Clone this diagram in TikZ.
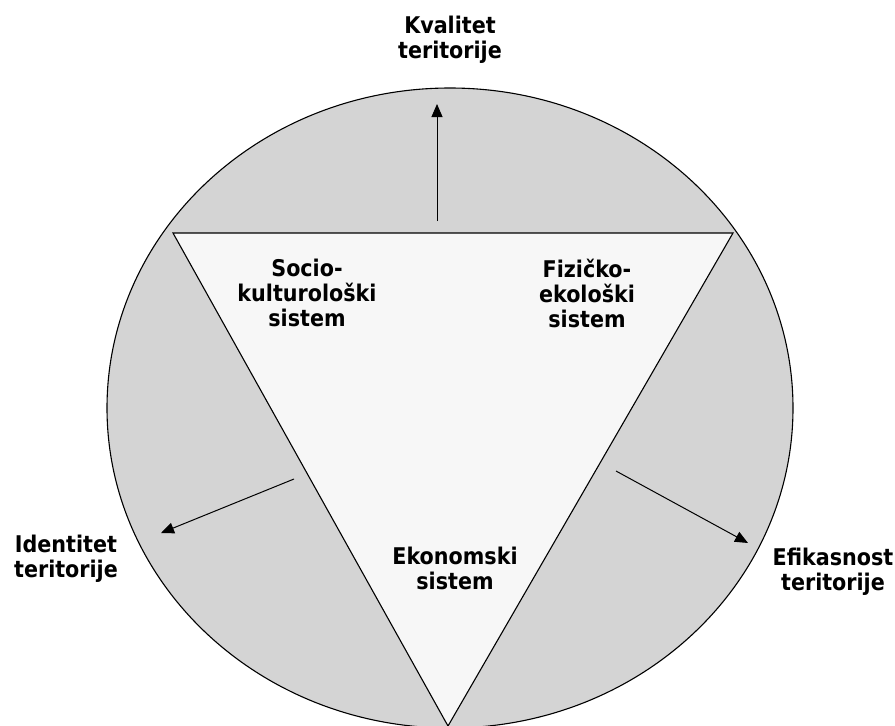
\documentclass[tikz,border=0pt]{standalone}
\usepackage{fontspec}
\setmainfont{DejaVu Sans Condensed}
\usetikzlibrary{arrows.meta}
\definecolor{ringgray}{gray}{0.83}
\definecolor{coregray}{gray}{0.97}
\begin{document}
\begin{tikzpicture}[x=1pt,y=-1pt,
                    arrow/.style = {line width=1pt,-{Triangle[length=13pt,width=11pt]}},
                    txt/.style = {font=\bfseries\fontsize{23}{25}\selectfont, align=center, inner sep=0pt}]
                    \useasboundingbox (0,0) rectangle (895,726);

                    \filldraw[fill=ringgray, line width=1.1pt] (450,408) ellipse [x radius=343, y radius=320];

                    \coordinate (tl) at (173,233);
                    \coordinate (tr) at (733,233);
                    \coordinate (bt) at (448,726);
                    \filldraw[fill=coregray, line width=1.1pt] (tl) -- (tr) -- (bt) -- cycle;

                    \node [txt] (socio) at (307,293) {Socio-\\kulturološki\\sistem};
                    \node [txt] (fizicko) at (587,293) {Fizičko-\\ekološki\\sistem};
                    \node [txt] (ekonom) at (455,568) {Ekonomski\\sistem};

                    \node [txt] (kvalitet) at (450,40) {Kvalitet\\teritorije};
                    \node [txt] (identitet) at (66,559) {Identitet\\teritorije};
                    \node [txt] (efikas) at (833,572) {Efikasnost\\teritorije};

                    \coordinate (kv0) at (437,221);
                    \coordinate (kv1) at (437,104);
                    \coordinate (id0) at (294,479);
                    \coordinate (id1) at (161,533);
                    \coordinate (ef0) at (616,471);
                    \coordinate (ef1) at (748,543);

                    \draw[arrow] (kv0) -- (kv1);
                    \draw[arrow] (id0) -- (id1);
                    \draw[arrow] (ef0) -- (ef1);
                \end{tikzpicture}
\end{document}
